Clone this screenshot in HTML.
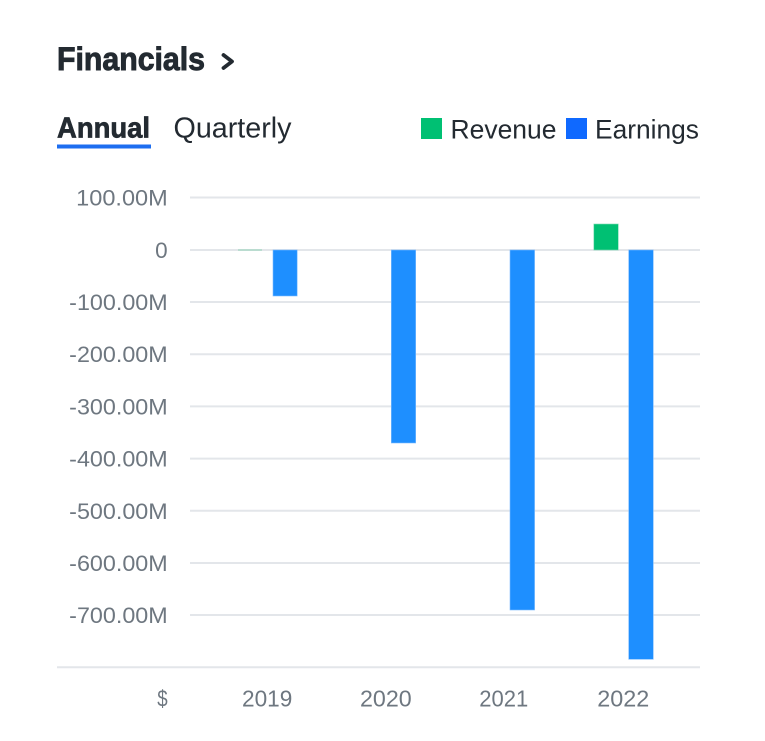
<!DOCTYPE html>
<html>
<head>
<meta charset="utf-8">
<style>
  html, body { margin: 0; padding: 0; background: #ffffff; }
  svg { display: block; }
  text { font-family: "Liberation Sans", "DejaVu Sans", sans-serif; }
</style>
</head>
<body>
<svg width="765" height="741" viewBox="0 0 765 741" xmlns="http://www.w3.org/2000/svg">
  <rect x="0" y="0" width="765" height="741" fill="#ffffff"/>

  <!-- Title -->
  <text x="57" y="70" font-size="32" font-weight="bold" fill="#232a31" stroke="#232a31" stroke-width="0.9" textLength="148" lengthAdjust="spacingAndGlyphs">Financials</text>
  <polyline points="223.5,55 232,61.5 223.5,68" fill="none" stroke="#232a31" stroke-width="3.8" stroke-linecap="round" stroke-linejoin="round"/>

  <!-- Tabs -->
  <text x="57" y="137.5" font-size="28.5" font-weight="bold" fill="#232a31" stroke="#232a31" stroke-width="0.7" textLength="93" lengthAdjust="spacingAndGlyphs">Annual</text>
  <rect x="57" y="144.5" width="94" height="4" fill="#1d6ef0"/>
  <text x="173.5" y="137.5" font-size="28.5" fill="#232a31" textLength="118" lengthAdjust="spacingAndGlyphs">Quarterly</text>

  <!-- Legend -->
  <rect x="421" y="118" width="21" height="21" fill="#00c073"/>
  <text x="450.5" y="138.3" font-size="27" fill="#232a31" textLength="106" lengthAdjust="spacingAndGlyphs">Revenue</text>
  <rect x="566" y="118" width="21" height="21" fill="#0f69ff"/>
  <text x="595" y="138.3" font-size="27" fill="#232a31" textLength="104" lengthAdjust="spacingAndGlyphs">Earnings</text>

  <!-- Gridlines -->
  <g stroke="#e3e6ea" stroke-width="2">
    <line x1="190" y1="197.5" x2="700" y2="197.5"/>
    <line x1="190" y1="250" x2="700" y2="250"/>
    <line x1="190" y1="302" x2="700" y2="302"/>
    <line x1="190" y1="354.2" x2="700" y2="354.2"/>
    <line x1="190" y1="406.4" x2="700" y2="406.4"/>
    <line x1="190" y1="458.6" x2="700" y2="458.6"/>
    <line x1="190" y1="510.8" x2="700" y2="510.8"/>
    <line x1="190" y1="563" x2="700" y2="563"/>
    <line x1="190" y1="615" x2="700" y2="615"/>
    <line x1="57" y1="667.3" x2="700" y2="667.3"/>
  </g>

  <!-- Y-axis labels -->
  <g font-size="22.5" fill="#6e7780" text-anchor="end">
    <text x="167.7" y="205.5" textLength="91.5" lengthAdjust="spacingAndGlyphs">100.00M</text>
    <text x="167.7" y="258">0</text>
    <text x="167.7" y="310" textLength="98.5" lengthAdjust="spacingAndGlyphs">-100.00M</text>
    <text x="167.7" y="362.2" textLength="98.5" lengthAdjust="spacingAndGlyphs">-200.00M</text>
    <text x="167.7" y="414.4" textLength="98.5" lengthAdjust="spacingAndGlyphs">-300.00M</text>
    <text x="167.7" y="466.6" textLength="98.5" lengthAdjust="spacingAndGlyphs">-400.00M</text>
    <text x="167.7" y="518.8" textLength="98.5" lengthAdjust="spacingAndGlyphs">-500.00M</text>
    <text x="167.7" y="571" textLength="98.5" lengthAdjust="spacingAndGlyphs">-600.00M</text>
    <text x="167.7" y="623" textLength="98.5" lengthAdjust="spacingAndGlyphs">-700.00M</text>
  </g>

  <!-- X-axis labels -->
  <g font-size="23" fill="#6e7780">
    <text x="157.3" y="706.7" textLength="10.4" lengthAdjust="spacingAndGlyphs">$</text>
    <text x="242" y="706.7" textLength="50.3" lengthAdjust="spacingAndGlyphs">2019</text>
    <text x="360" y="706.7" textLength="51.7" lengthAdjust="spacingAndGlyphs">2020</text>
    <text x="479.3" y="706.7" textLength="49" lengthAdjust="spacingAndGlyphs">2021</text>
    <text x="597.3" y="706.7" textLength="52" lengthAdjust="spacingAndGlyphs">2022</text>
  </g>

  <!-- Bars -->
  <!-- 2019 -->
  <rect x="238" y="249.3" width="24" height="1.4" fill="#a9d8c6"/>
  <rect x="273" y="250" width="24.2" height="46" fill="#1e8fff" stroke="#7dbcff" stroke-width="0.6"/>
  <!-- 2020 -->
  <rect x="391.3" y="250" width="24.4" height="193" fill="#1e8fff" stroke="#7dbcff" stroke-width="0.6"/>
  <!-- 2021 -->
  <rect x="510" y="250" width="24.6" height="360" fill="#1e8fff" stroke="#7dbcff" stroke-width="0.6"/>
  <!-- 2022 -->
  <rect x="593.8" y="224" width="24.5" height="26" fill="#00c073" stroke="#7fdcb4" stroke-width="0.6"/>
  <rect x="628.7" y="250" width="24.6" height="409.3" fill="#1e8fff" stroke="#7dbcff" stroke-width="0.6"/>
</svg>
</body>
</html>
